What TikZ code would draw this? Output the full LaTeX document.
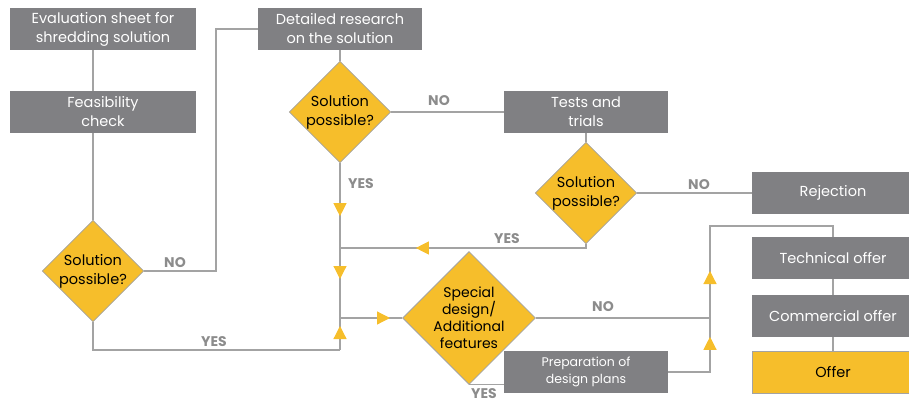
\documentclass[tikz,border=0pt]{standalone}
\usepackage{fontspec}
\setmainfont{Poppins}
\usetikzlibrary{shapes.geometric,arrows.meta,decorations.markings}
\definecolor{boxgray}{HTML}{808083}
\definecolor{ylw}{HTML}{F6BE2B}
\definecolor{linegray}{HTML}{A3A3A3}
\definecolor{lblgray}{HTML}{8C8C8C}
\tikzset{
  gbox/.style={fill=boxgray, draw=none, text=white, minimum height=42pt, inner sep=0pt, align=center, font=\fontsize{14.5}{19}\selectfont},
  dia/.style={diamond, aspect=1, fill=ylw, draw=linegray, line width=0.8pt, inner sep=0pt, align=center, text=black, font=\fontsize{14.5}{19}\selectfont},
  conn/.style={draw=linegray, line width=1.2pt},
  lbl/.style={text=lblgray, font=\bfseries\fontsize{14}{16}\selectfont, inner sep=0pt},
  tipat/.style={postaction={decorate}, decoration={markings, mark=at position #1 with {\arrow[ylw]{Triangle[width=13pt,length=13pt]}}}}
}
\begin{document}
\begin{tikzpicture}[x=1pt,y=-1pt]
\useasboundingbox (0,0) rectangle (909,403);
% boxes
\node[gbox, minimum width=186pt] (eval) at (103,29) {Evaluation sheet for\\shredding solution};
\node[gbox, minimum width=186pt] (feas) at (103,112) {Feasibility\\check};
\node[gbox, minimum width=164pt] (res) at (340,29) {Detailed research\\on the solution};
\node[gbox, minimum width=164pt] (test) at (586,112) {Tests and\\trials};
\node[gbox, minimum width=164pt, font=\fontsize{12.5}{17}\selectfont] (prep) at (586,372) {Preparation of\\design plans};
\node[gbox, minimum width=162pt] (rej) at (833,193) {Rejection};
\node[gbox, minimum width=162pt] (tech) at (833,258) {Technical offer};
\node[gbox, minimum width=162pt] (comm) at (833,316) {Commercial offer};
\node[gbox, minimum width=162pt, fill=ylw, draw=linegray, line width=0.8pt, text=black] (offer) at (833,372) {Offer};
% diamonds
\node[dia, minimum size=100pt] (d1) at (93,271) {Solution\\possible?};
\node[dia, minimum size=100pt] (d2) at (340,112) {Solution\\possible?};
\node[dia, minimum size=100pt] (d3) at (586,193) {Solution\\possible?};
\node[dia, minimum size=130pt, font=\fontsize{14}{17}\selectfont] (d4) at (469,318) {Special\\design/\\Additional\\features};
% junctions
\coordinate (j1) at (340,248);
\coordinate (j2) at (340,318);
\coordinate (j3) at (340,350);
\coordinate (j4) at (710,318);
\coordinate (j5) at (710,226);
\coordinate (j6) at (833,226);
% connectors
\draw[conn] (eval.south -| d1.north) -- (feas.north -| d1.north);
\draw[conn] (feas.south -| d1.north) -- (d1.north);
\draw[conn] (d1.east) -- (216,271) |- (res.west);
\draw[conn] (res) -- (d2);
\draw[conn] (d2.east) -- (test.west);
\draw[conn] (test) -- (d3);
\draw[conn] (d3.east) -- (rej.west);
\draw[conn, tipat=53pt] (d2.south) -- (j1);
\draw[conn, tipat=174pt] (d3.south) |- (j1);
\draw[conn, tipat=31pt] (j1) -- (j2);
\draw[conn] (d1.south) |- (j3);
\draw[conn, tipat=24pt] (j3) -- (j2);
\draw[conn, tipat=50pt] (j2) -- (d4.west);
\draw[conn] (d4.east) -- (j4);
\draw[conn] (d4.south) -- (d4.south -| prep.west);
\draw[conn, tipat=77pt] (prep.east) -| (j4);
\draw[conn, tipat=47pt] (j4) -- (j5) -- (j6) -- (tech.north);
\draw[conn] (tech) -- (comm);
\draw[conn] (comm) -- (offer);
% labels
\node[lbl] (no1) at (175,263) {NO};
\node[lbl] (no2) at (439,101) {NO};
\node[lbl] (no3) at (699,185) {NO};
\node[lbl] (no4) at (603,307) {NO};
\node[lbl] (yes1) at (361,184) {YES};
\node[lbl] (yes2) at (507,239) {YES};
\node[lbl] (yes3) at (214,342) {YES};
\node[lbl] (yes4) at (484,394) {YES};
\end{tikzpicture}
\end{document}
